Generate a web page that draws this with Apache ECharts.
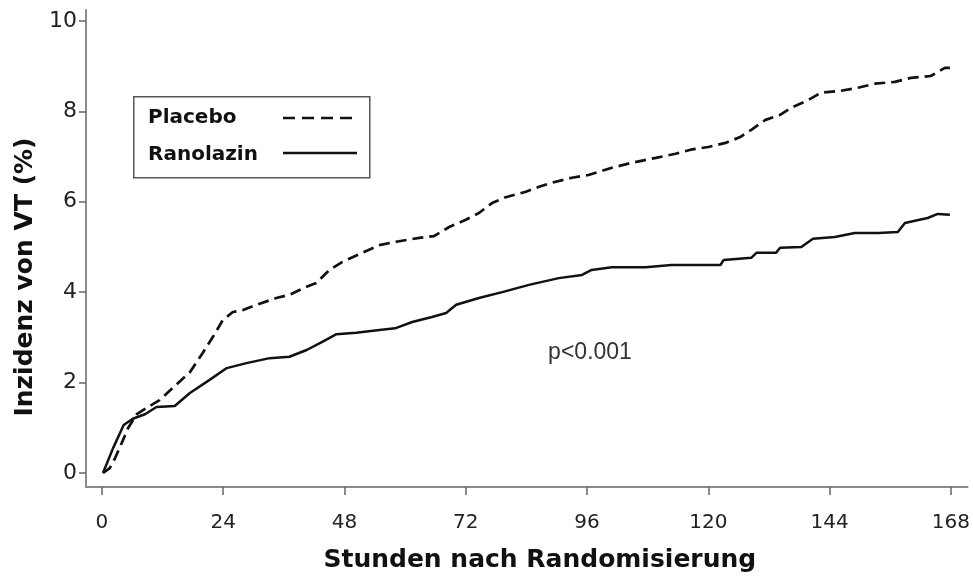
<!DOCTYPE html>
<html>
<head>
<meta charset="utf-8">
<script src="https://cdn.jsdelivr.net/npm/echarts@6/dist/echarts.min.js"></script>
<style>
html,body{margin:0;padding:0;background:#fff;}
#chart{width:973px;height:579px;}
</style>
</head>
<body>
<div id="chart"></div>
<script>
// ---- data ----
var xTicks = [0, 24, 48, 72, 96, 120, 144, 168];
var yTicks = [0, 2, 4, 6, 8, 10];
var seriesNames = ['Placebo', 'Ranolazin'];
var xTitle = 'Stunden nach Randomisierung';
var yTitle = 'Inzidenz von VT (%)';
var pText = 'p<0.001';

var placeboHours = [0.2, 1.5, 2.6, 3.9, 5.2, 6.9, 9, 11.4, 14, 17.4, 19.9, 21.9, 23.9, 25.9, 27.8, 30.6, 34.5, 37.1, 40.5, 42.4, 45, 47.6, 51.5, 54.9, 58.5, 62.8, 65.7, 68.7, 72, 74.6, 77.2, 79.9, 83.9, 86.5, 89, 93, 96.3, 100.9, 104.8, 109.6, 113.5, 116.5, 120, 123.4, 126.3, 128.5, 131.3, 134.2, 136.4, 139.8, 142.3, 146.1, 149.6, 153, 156.9, 160.1, 164, 166.8, 167.8];
var placeboValues = [0, 0.1, 0.33, 0.66, 1.0, 1.3, 1.45, 1.61, 1.88, 2.23, 2.65, 3.0, 3.38, 3.56, 3.6, 3.72, 3.87, 3.94, 4.12, 4.2, 4.49, 4.67, 4.87, 5.04, 5.12, 5.2, 5.24, 5.44, 5.6, 5.75, 5.97, 6.1, 6.22, 6.33, 6.42, 6.53, 6.59, 6.75, 6.86, 6.97, 7.06, 7.15, 7.21, 7.3, 7.43, 7.59, 7.81, 7.92, 8.08, 8.25, 8.41, 8.45, 8.52, 8.61, 8.65, 8.74, 8.78, 8.96, 8.96];

var ranolazinHours = [0.2, 2.2, 4.3, 6.1, 8.5, 10.8, 14.4, 17.4, 21.3, 24.7, 28.6, 33.2, 37.1, 40.5, 43.6, 46.4, 50.3, 54.9, 58, 61.4, 65.3, 68.1, 70.1, 74.6, 79.2, 84.5, 90.4, 95, 96.9, 100.9, 107.6, 112.7, 122.4, 123, 128.5, 129.5, 133.4, 134.2, 138.4, 140.7, 145, 149, 153.6, 157.5, 158.9, 160.9, 163.4, 165.4, 167.8];
var ranolazinValues = [0, 0.55, 1.06, 1.2, 1.3, 1.46, 1.48, 1.77, 2.06, 2.32, 2.43, 2.54, 2.57, 2.72, 2.9, 3.07, 3.1, 3.16, 3.2, 3.34, 3.45, 3.54, 3.72, 3.87, 4.0, 4.16, 4.31, 4.38, 4.49, 4.55, 4.55, 4.6, 4.6, 4.71, 4.76, 4.87, 4.87, 4.98, 5.0, 5.18, 5.22, 5.31, 5.31, 5.33, 5.53, 5.58, 5.64, 5.73, 5.71];

function pairs(xs, ys) { return xs.map(function (x, i) { return [x, ys[i]]; }); }

var chart = echarts.init(document.getElementById('chart'), null, {renderer: 'canvas'});
var lineColor = '#111';
var axisColor = '#8a8a8a';
var titleFont = 'DejaVu Sans';

chart.setOption({
  animation: false,
  backgroundColor: '#fff',
  grid: {left: 86, right: 3, top: 10, bottom: 92, containLabel: false},
  xAxis: {
    type: 'value',
    min: -3.16, max: 171.3,
    name: xTitle,
    nameLocation: 'middle',
    nameGap: 61,
    nameTextStyle: {fontFamily: titleFont, fontWeight: 'bold', fontSize: 25, color: '#111', padding: [0, 0, 0, 26]},
    axisLine: {show: true, onZero: false, lineStyle: {color: axisColor, width: 2}},
    axisTick: {show: true, length: 8, customValues: xTicks, lineStyle: {color: '#666', width: 1.5}},
    axisLabel: {customValues: xTicks, margin: 26, fontFamily: 'DejaVu Sans', fontSize: 20, color: '#222'},
    splitLine: {show: false}
  },
  yAxis: {
    type: 'value',
    min: -0.31, max: 10.24,
    name: yTitle,
    nameLocation: 'middle',
    nameGap: 46,
    nameRotate: 90,
    nameTextStyle: {fontFamily: titleFont, fontWeight: 'bold', fontSize: 25, color: '#111', padding: [0, 57, 0, 0]},
    axisLine: {show: true, onZero: false, lineStyle: {color: axisColor, width: 2}},
    axisTick: {show: true, length: 7, customValues: yTicks, lineStyle: {color: '#666', width: 1.5}},
    axisLabel: {customValues: yTicks, margin: 9, fontFamily: 'DejaVu Sans', fontSize: 22, color: '#222'},
    splitLine: {show: false}
  },
  series: [
    {
      name: seriesNames[0], type: 'line', showSymbol: false, symbol: 'none',
      data: pairs(placeboHours, placeboValues),
      lineStyle: {color: lineColor, width: 2.7, type: [11, 6]}
    },
    {
      name: seriesNames[1], type: 'line', showSymbol: false, symbol: 'none',
      data: pairs(ranolazinHours, ranolazinValues),
      lineStyle: {color: lineColor, width: 2.5, type: 'solid'}
    }
  ],
  graphic: [
    {type: 'rect', left: 133, top: 96, shape: {width: 236, height: 81}, style: {fill: '#fff', stroke: '#555', lineWidth: 1.5}, z: 10},
    {type: 'text', x: 148, y: 118, style: {text: seriesNames[0], font: 'bold 20px "DejaVu Sans"', fill: '#111', verticalAlign: 'middle'}, z: 11},
    {type: 'text', x: 148, y: 155, style: {text: seriesNames[1], font: 'bold 20px "DejaVu Sans"', fill: '#111', verticalAlign: 'middle'}, z: 11},
    {type: 'line', shape: {x1: 283, y1: 118, x2: 357, y2: 118}, style: {stroke: lineColor, lineWidth: 2.6, lineDash: [12, 7]}, z: 11},
    {type: 'line', shape: {x1: 283, y1: 153, x2: 357, y2: 153}, style: {stroke: lineColor, lineWidth: 2.4}, z: 11},
    {type: 'text', x: 590, y: 353, style: {text: pText, font: '23px "Liberation Sans"', fill: '#333', align: 'center', verticalAlign: 'middle'}, z: 11}
  ]
});
</script>
</body>
</html>
